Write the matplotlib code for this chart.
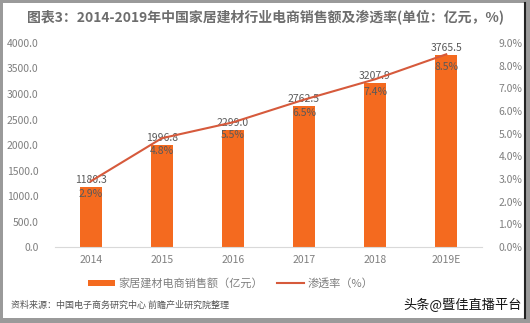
import matplotlib.pyplot as plt
from matplotlib.patches import Rectangle
from matplotlib.ticker import FuncFormatter

plt.rcParams['font.family'] = ['Noto Sans CJK SC', 'DejaVu Sans']

# 数据
years = ['2014', '2015', '2016', '2017', '2018', '2019E']
sales = [1180.3, 1996.8, 2299.0, 2762.5, 3207.9, 3765.5]
rate = [2.9, 4.8, 5.5, 6.5, 7.4, 8.5]

title = '图表3：2014-2019年中国家居建材行业电商销售额及渗透率(单位：亿元，%)'
source = '资料来源：中国电子商务研究中心 前瞻产业研究院整理'

bar_color = '#f46a1f'
line_color = '#d65a3c'
text_grey = '#7f7f7f'

fig = plt.figure(figsize=(5.3, 3.23), dpi=100)
fig.patch.set_facecolor('#9a9a9a')
# 白色底板 + 右侧深色边框
fig.patches.append(Rectangle((0.006, 0.016), 0.984, 0.975, transform=fig.transFigure,
                             facecolor='white', edgecolor='none', zorder=-10))
fig.lines.append(plt.Line2D([0.99, 0.99], [0.016, 0.991], transform=fig.transFigure,
                            color='#222222', linewidth=1.5, zorder=-5))

ax = fig.add_axes([0.104, 0.235, 0.805, 0.632])
ax.set_facecolor('none')
x = range(len(years))
bars = ax.bar(x, sales, width=0.31, color=bar_color, zorder=2,
              label='家居建材电商销售额（亿元）')
ax.set_ylim(0, 4000)
ax.set_xlim(-0.5, len(years) - 0.5)
ax.set_yticks(range(0, 4001, 500))
ax.yaxis.set_major_formatter(FuncFormatter(lambda v, p: f'{v:.1f}'))
ax.set_xticks(list(x))
ax.set_xticklabels(years)
ax.tick_params(length=0, labelsize=7.5, colors=text_grey, pad=6)
ax.tick_params(axis='y', pad=12)
for s in ['top', 'left', 'right']:
    ax.spines[s].set_visible(False)
ax.spines['bottom'].set_color('#d9d9d9')

for i, v in enumerate(sales):
    ax.text(i, v + 40, f'{v:.1f}', ha='center', va='bottom', fontsize=7.5,
            color='#595959', zorder=4)

ax2 = ax.twinx()
ax2.plot(list(x), rate, color=line_color, linewidth=1.5, zorder=3,
         label='渗透率（%）')
ax2.set_ylim(0, 9)
ax2.set_yticks(range(0, 10))
ax2.yaxis.set_major_formatter(FuncFormatter(lambda v, p: f'{v:.1f}%'))
ax2.tick_params(length=0, labelsize=7.5, colors=text_grey, pad=12)
for s in ['top', 'left', 'right', 'bottom']:
    ax2.spines[s].set_visible(False)

for i, r in enumerate(rate):
    ax2.text(i, r - 0.35, f'{r:.1f}%', ha='center', va='top', fontsize=7.5,
             color='#595959', zorder=4)

h1, l1 = ax.get_legend_handles_labels()
h2, l2 = ax2.get_legend_handles_labels()
fig.legend(h1 + h2, l1 + l2, loc='center', bbox_to_anchor=(0.435, 0.123), ncol=2,
           frameon=False, fontsize=8, labelcolor=text_grey, handlelength=2.5,
           handleheight=0.5, columnspacing=1.2, handletextpad=0.3)

fig.text(0.5, 0.945, title, ha='center', va='center', fontsize=10,
         color='#6d6d6d', fontweight='bold')
fig.text(0.02, 0.055, source, ha='left', va='center', fontsize=6.5,
         color='#555555', style='italic')
fig.text(0.985, 0.055, '头条@暨佳直播平台', ha='right', va='center', fontsize=9.5,
         color='#111111')

fig.savefig('out.png', dpi=100)
